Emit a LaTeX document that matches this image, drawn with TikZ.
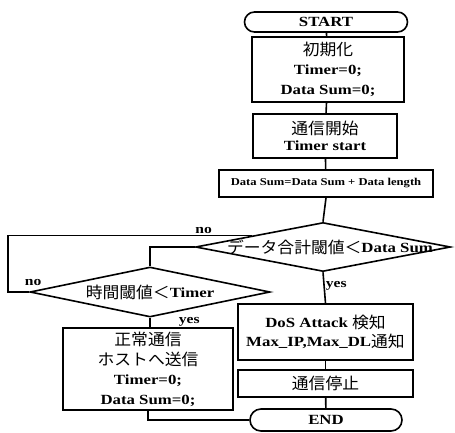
\documentclass[tikz,border=0pt]{standalone}
\usepackage{fontspec}
\setmainfont{Liberation Serif}[FakeStretch=1.2]
\newfontfamily\jpfont{Noto Sans CJK JP}[FakeStretch=1.05]
\newcommand{\jp}[1]{\raisebox{-1pt}{\jpfont\mdseries\fontsize{16}{20}\selectfont #1}}
\usetikzlibrary{shapes,calc}

\begin{document}
\begin{tikzpicture}[x=1pt,y=-1pt,line width=1.6pt,font=\bfseries\fontsize{14}{20}\selectfont,
    box/.style={draw,rectangle,inner sep=0pt,align=center},
    decision/.style={draw,diamond,inner sep=0pt},
    terminal/.style={draw,rounded rectangle,inner sep=0pt},
    lbl/.style={inner sep=1pt,font=\bfseries\fontsize{13}{13}\selectfont}]
    \useasboundingbox (0,0) rectangle (455,432);

    % main column
    \node[terminal,minimum width=163pt,minimum height=20pt] (startNode) at (326,22) {START};
    \node[box,minimum width=152pt,minimum height=65pt] (initNode) at (328,69.5) {\jp{初期化}\\Timer=0;\\Data Sum=0;};
    \node[box,minimum width=144pt,minimum height=44pt,font=\bfseries\fontsize{14}{17}\selectfont] (commNode) at (325,136) {\jp{通信開始}\\Timer start};
    \node[box,minimum width=214pt,minimum height=27pt,font=\bfseries\fontsize{10.5}{12}\selectfont] (sumNode) at (326,183.5) {Data Sum=Data Sum + Data length};
    \node[decision,minimum width=255pt,minimum height=49pt,label={[xshift=7pt]center:{\jp{データ合計閾値＜}Data Sum}}] (sumCheck) at (323,247) {};
    \node[box,minimum width=175pt,minimum height=56pt,font=\bfseries\fontsize{14}{19}\selectfont] (dosNode) at (325.5,332) {DoS Attack \jp{検知}\\Max\_IP,Max\_DL\jp{通知}};
    \node[box,minimum width=175pt,minimum height=27pt] (stopNode) at (325.5,383.5) {\jp{通信停止}};
    \node[terminal,minimum width=152pt,minimum height=22pt] (endNode) at (326,420) {END};

    % left column
    \node[decision,minimum width=240pt,minimum height=50pt,label={center:{\jp{時間閾値＜}Timer}}] (timeCheck) at (150,292) {};
    \node[box,minimum width=170pt,minimum height=82pt] (normalNode) at (148,369) {\jp{正常通信}\\\jp{ホストへ送信}\\Timer=0;\\Data Sum=0;};

    \coordinate (loopNode) at ($(sumCheck.west)!0.45!(sumCheck.north)$);

    \draw (startNode) -- (initNode);
    \draw (initNode) -- (commNode);
    \draw (commNode) -- (sumNode);
    \draw (sumNode.south) -- (sumCheck.north);
    \draw (sumCheck.south) -- (dosNode.north) node[lbl,right,pos=0.45]{yes};
    \draw (dosNode) -- (stopNode);
    \draw (stopNode) -- (endNode);

    \draw (sumCheck.west) -| (timeCheck.north);
    \draw (timeCheck.south) -- (timeCheck.south |- normalNode.north) node[lbl,right=27pt,pos=0.4]{yes};
    \draw (normalNode.south) |- (endNode.west);
    \draw (timeCheck.west) -- ++(-21,0) node[lbl,above=5pt,pos=0,xshift=4pt]{no} |- (loopNode) node[lbl,above,pos=0.9]{no};

  \end{tikzpicture}
\end{document}
